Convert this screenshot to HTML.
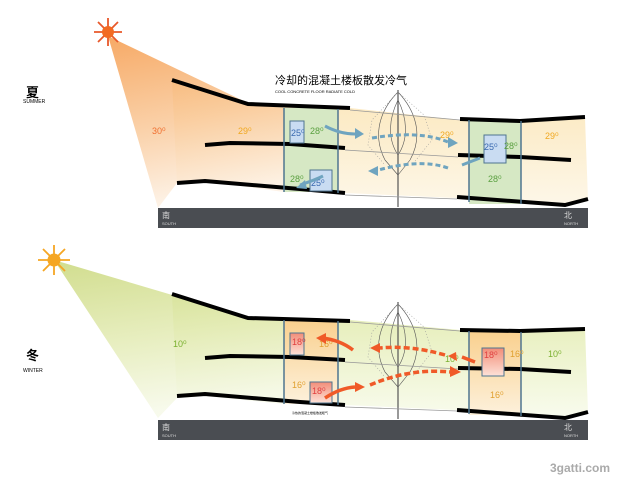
<!DOCTYPE html>
<html><head><meta charset="utf-8"><style>
body{margin:0;background:#fff;width:620px;height:480px;overflow:hidden}
svg{display:block}
text{font-family:"Liberation Sans","Noto Sans CJK SC",sans-serif}
</style></head><body>
<svg width="620" height="480" viewBox="0 0 620 480" xmlns="http://www.w3.org/2000/svg">
<defs>
<linearGradient id="sb" x1="0" y1="0" x2="0.2" y2="1"><stop offset="0" stop-color="#f59a4a"/><stop offset="0.55" stop-color="#f9c898"/><stop offset="1" stop-color="#fdf0e2"/></linearGradient>
<linearGradient id="sy" x1="0" y1="0" x2="0" y2="1"><stop offset="0" stop-color="#fbe3b0"/><stop offset="1" stop-color="#fdf6e6"/></linearGradient>
<linearGradient id="wb" x1="0" y1="0" x2="0.2" y2="1"><stop offset="0" stop-color="#c9d77a"/><stop offset="0.55" stop-color="#e3ebb4"/><stop offset="1" stop-color="#f6f9e8"/></linearGradient>
<linearGradient id="wy" x1="0" y1="0" x2="0" y2="1"><stop offset="0" stop-color="#dfe9a6"/><stop offset="1" stop-color="#f8fbec"/></linearGradient>
<linearGradient id="wr" x1="0" y1="0" x2="0" y2="1"><stop offset="0" stop-color="#f9d08e"/><stop offset="1" stop-color="#fdf1dc"/></linearGradient>
<linearGradient id="rb" x1="0" y1="0" x2="0" y2="1"><stop offset="0" stop-color="#f28d78"/><stop offset="1" stop-color="#fde2d8"/></linearGradient>
<g id="tree" fill="none" stroke="#555" stroke-width="0.6">
<line x1="398" y1="90" x2="398" y2="207" stroke-width="1.2"/>
<path d="M398 92 C380 110 372 135 385 160 M398 92 C415 110 424 135 410 160 M398 100 C388 120 388 140 398 155 M398 100 C408 120 408 140 398 155 M385 160 L398 175 M410 160 L398 175"/>
<path d="M398 92 L372 120 L368 145 L385 165 M398 92 L424 115 L432 140 L412 165" stroke="#999" stroke-dasharray="1 2"/>
</g>
</defs>

<!-- SUMMER -->
<polygon points="172,80 248,104 350,108 460,120 585,118 588,200 565,205 455,198 345,193 300,190 205,181 177,183" fill="url(#sy)" opacity="0.9"/>
<polygon points="108,36 250,104 284,108 284,192 205,181 177,183 158,208" fill="url(#sb)" opacity="0.85"/>
<rect x="284" y="108" width="54" height="84" fill="#d6e8c4"/>
<rect x="469" y="120" width="52" height="84" fill="#d6e8c4"/>
<use href="#tree"/>
<g fill="none" stroke="#000" stroke-width="4">
<polyline points="172,80 248,104 350,108"/>
<polyline points="460,119 520,121 585,117"/>
<polyline points="205,145 230,143 290,144 345,148"/>
<polyline points="458,155 520,157 571,160"/>
<polyline points="177,183 205,181 300,189 345,193"/>
<polyline points="457,197 565,205 588,199"/>
</g>
<g stroke="#999" stroke-width="0.8"><line x1="350" y1="110" x2="460" y2="120"/><line x1="345" y1="150" x2="458" y2="157"/><line x1="345" y1="195" x2="457" y2="199"/></g>
<g stroke="#4e7590" stroke-width="1.5"><line x1="284" y1="108" x2="284" y2="192"/><line x1="338" y1="109" x2="338" y2="193"/><line x1="469" y1="120" x2="469" y2="202"/><line x1="521" y1="121" x2="521" y2="204"/></g>
<g fill="#c9dcf2" stroke="#4e7590" stroke-width="1"><rect x="290" y="121" width="14" height="22"/><rect x="484" y="135" width="22" height="28"/><rect x="310" y="170" width="22" height="21"/></g>
<rect x="158" y="208" width="430" height="20" fill="#4a4d52"/>
<text x="162" y="218" font-size="8" fill="#ddd">南</text><text x="162" y="225" font-size="4" fill="#ddd">SOUTH</text>
<text x="564" y="218" font-size="8" fill="#ddd">北</text><text x="564" y="225" font-size="4" fill="#ddd">NORTH</text>
<g stroke="#e8582a" stroke-width="1.8"><line x1="108" y1="18" x2="108" y2="46"/><line x1="94" y1="32" x2="122" y2="32"/><line x1="98" y1="22" x2="118" y2="42"/><line x1="118" y1="22" x2="98" y2="42"/></g>
<circle cx="108" cy="32" r="6" fill="#f26a22"/>
<text x="26" y="97" font-size="13" font-weight="bold">夏</text><text x="23" y="103" font-size="5">SUMMER</text>
<text x="275" y="84" font-size="11">冷却的混凝土楼板散发冷气</text>
<text x="275" y="93" font-size="4">COOL CONCRETE FLOOR RADIATE COLD</text>
<g font-size="9"><text x="152" y="134" fill="#f07030">30⁰</text><text x="238" y="134" fill="#f0a820">29⁰</text><text x="310" y="134" fill="#5aa040">28⁰</text><text x="440" y="138" fill="#f0a820">29⁰</text><text x="545" y="139" fill="#f0a820">29⁰</text><text x="504" y="149" fill="#5aa040">28⁰</text><text x="290" y="182" fill="#5aa040">28⁰</text><text x="488" y="182" fill="#5aa040">28⁰</text>
<text x="291" y="136" fill="#3a6ab0">25⁰</text><text x="484" y="150" fill="#3a6ab0">25⁰</text><text x="311" y="186" fill="#3a6ab0">25⁰</text></g>
<g stroke="#6fa4bf" stroke-width="3" fill="none">
<path d="M325 126 Q340 134 355 134"/><path d="M372 138 Q420 130 448 142" stroke-dasharray="5 3"/><path d="M448 168 Q420 158 375 171" stroke-dasharray="5 3"/><path d="M300 185 Q315 180 323 176"/><path d="M462 165 L480 158"/></g>
<g fill="#6fa4bf"><polygon points="355,128 364,134 355,139"/><polygon points="448,137 458,143 448,148"/><polygon points="378,166 368,171 378,176"/><polygon points="305,180 296,188 307,189"/></g>

<!-- WINTER -->
<polygon points="172,295 248,318 350,320 460,330 585,328 588,412 565,418 455,410 345,405 300,402 205,396 177,398" fill="url(#wy)" opacity="0.9"/>
<polygon points="54,260 250,318 284,320 284,404 205,396 177,398 158,418" fill="url(#wb)" opacity="0.85"/>
<rect x="284" y="320" width="54" height="84" fill="url(#wr)"/>
<rect x="469" y="331" width="52" height="84" fill="url(#wr)"/>
<use href="#tree" transform="translate(0,212)"/>
<g fill="none" stroke="#000" stroke-width="4">
<polyline points="172,294 248,318 350,321"/>
<polyline points="460,330 520,331 585,329"/>
<polyline points="205,358 230,356 290,357 345,360"/>
<polyline points="458,368 520,369 571,372"/>
<polyline points="177,396 205,394 300,402 345,405"/>
<polyline points="457,410 565,418 588,412"/>
</g>
<g stroke="#999" stroke-width="0.8"><line x1="350" y1="322" x2="460" y2="331"/><line x1="345" y1="362" x2="458" y2="369"/><line x1="345" y1="407" x2="457" y2="411"/></g>
<g stroke="#4e7590" stroke-width="1.5"><line x1="284" y1="320" x2="284" y2="404"/><line x1="338" y1="321" x2="338" y2="405"/><line x1="469" y1="331" x2="469" y2="414"/><line x1="521" y1="332" x2="521" y2="416"/></g>
<g fill="url(#rb)" stroke="#4e7590" stroke-width="1"><rect x="290" y="333" width="14" height="22"/><rect x="482" y="348" width="22" height="28"/><rect x="310" y="382" width="22" height="21"/></g>
<rect x="158" y="420" width="430" height="20" fill="#4a4d52"/>
<text x="162" y="430" font-size="8" fill="#ddd">南</text><text x="162" y="437" font-size="4" fill="#ddd">SOUTH</text>
<text x="564" y="430" font-size="8" fill="#ddd">北</text><text x="564" y="437" font-size="4" fill="#ddd">NORTH</text>
<g stroke="#f5a623" stroke-width="1.8"><line x1="54" y1="245" x2="54" y2="275"/><line x1="38" y1="260" x2="70" y2="260"/><line x1="43" y1="249" x2="65" y2="271"/><line x1="65" y1="249" x2="43" y2="271"/></g>
<circle cx="54" cy="260" r="6.5" fill="#f5a623"/>
<text x="26" y="360" font-size="13" font-weight="bold">冬</text><text x="23" y="372" font-size="5">WINTER</text>
<text x="292" y="414" font-size="3">冷热的混凝土楼板散发暖气</text>
<g font-size="9"><text x="173" y="347" fill="#7ab030">10⁰</text><text x="319" y="347" fill="#e0a030">16⁰</text><text x="445" y="362" fill="#7ab030">10⁰</text><text x="510" y="357" fill="#e0a030">16⁰</text><text x="548" y="357" fill="#7ab030">10⁰</text><text x="292" y="388" fill="#e0a030">16⁰</text><text x="490" y="398" fill="#e0a030">16⁰</text>
<text x="292" y="345" fill="#e04040">18⁰</text><text x="484" y="358" fill="#e04040">18⁰</text><text x="312" y="394" fill="#e04040">18⁰</text></g>
<g stroke="#f05a28" stroke-width="3.5" fill="none">
<path d="M353 350 Q340 340 322 338"/><path d="M445 355 Q410 345 380 348" stroke-dasharray="6 3"/><path d="M475 362 L462 357"/><path d="M370 385 Q410 368 450 372" stroke-dasharray="6 3"/><path d="M325 398 Q340 388 355 387"/></g>
<g fill="#f05a28"><polygon points="326,333 316,338 326,344"/><polygon points="380,343 370,348 380,353"/><polygon points="456,352 448,356 457,361"/><polygon points="450,366 461,372 450,377"/><polygon points="355,382 365,387 355,392"/></g>
<text x="610" y="472" font-size="12" font-weight="bold" fill="#aaa" text-anchor="end">3gatti.com</text>
</svg>
</body></html>
